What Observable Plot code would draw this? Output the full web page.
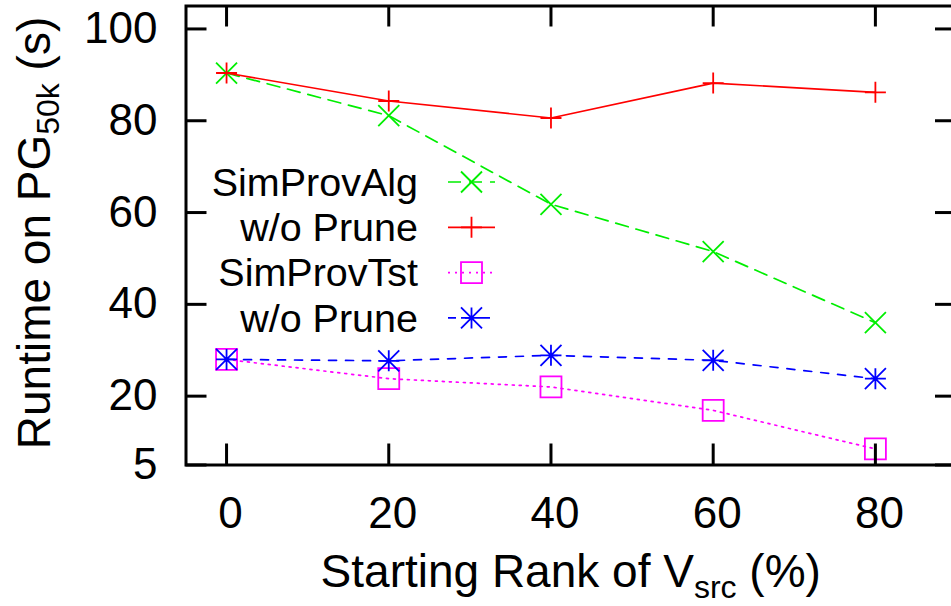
<!DOCTYPE html>
<html>
<head>
<meta charset="utf-8">
<script src="https://cdn.jsdelivr.net/npm/d3@7"></script>
<script src="https://cdn.jsdelivr.net/npm/@observablehq/plot@0.6"></script>
<style>
  html, body { margin: 0; padding: 0; background: white; overflow: hidden; }
  #chart svg { display: block; }
</style>
</head>
<body>
<div id="chart"></div>
<script>
// ---- data ----
const ranks = [0, 20, 40, 60, 80];
const simProvAlg = [90.4, 81.1, 61.8, 51.5, 36.0];
const algNoPrune = [90.4, 84.3, 80.6, 88.2, 86.2];
const simProvTst = [28.0, 23.8, 22.0, 16.9, 8.5];
const tstNoPrune = [28.0, 27.7, 28.9, 27.8, 23.8];
const seriesNames = ["SimProvAlg", "w/o Prune", "SimProvTst", "w/o Prune"];
const xTicks = [0, 20, 40, 60, 80];
const yTicks = [5, 20, 40, 60, 80, 100];
const xLabel = ["Starting Rank of V", "src", " (%)"];
const yLabel = ["Runtime on PG", "50k", " (s)"];

// ---- symbols (gnuplot-like) ----
const rOf = s => Math.sqrt(s / Math.PI);
const symPlus = {draw(c, s) { const r = rOf(s); c.moveTo(-r, 0); c.lineTo(r, 0); c.moveTo(0, -r); c.lineTo(0, r); }};
const symTimes = {draw(c, s) { const r = rOf(s); c.moveTo(-r, -r); c.lineTo(r, r); c.moveTo(-r, r); c.lineTo(r, -r); }};
const symSquare = {draw(c, s) { const r = rOf(s); c.moveTo(-r, -r); c.lineTo(r, -r); c.lineTo(r, r); c.lineTo(-r, r); c.closePath(); }};
const symAst = {draw(c, s) { const r = rOf(s); symPlus.draw(c, s); c.moveTo(-r, -r); c.lineTo(r, r); c.moveTo(-r, r); c.lineTo(r, -r); }};

const series = [
  {name: seriesNames[0], values: simProvAlg, color: "#00ee00", dash: "13,8", sym: symTimes},
  {name: seriesNames[1], values: algNoPrune, color: "#ff0000", dash: null, sym: symPlus},
  {name: seriesNames[2], values: simProvTst, color: "#ff00ff", dash: "2,5", sym: symSquare},
  {name: seriesNames[3], values: tstNoPrune, color: "#0000ff", dash: "8,9", sym: symAst}
];

const W = 951, H = 606;
const mL = 185.5, mR = -5, mT = 5.5, mB = 141.5;
const innerW = W - mL - mR, innerH = H - mT - mB;
const tickLen = 21;
const markR = 10.5;
const font = "Liberation Sans, Arial, Helvetica, sans-serif";

const marks = [];
for (const s of series) {
  const rows = ranks.map((r, i) => ({x: r, y: s.values[i]}));
  marks.push(Plot.line(rows, {x: "x", y: "y", stroke: s.color, strokeWidth: 1.7, strokeDasharray: s.dash}));
  marks.push(Plot.dot(rows, {x: "x", y: "y", r: markR, symbol: s.sym, fill: "none", stroke: s.color, strokeWidth: 1.8}));
}

const plot = Plot.plot({
  width: W, height: H,
  marginLeft: mL, marginRight: mR, marginTop: mT, marginBottom: mB,
  style: {fontFamily: font, background: "white", color: "black"},
  x: {domain: [-5, 90]},
  y: {domain: [5, 105]},
  marks: [
    ...marks,
    Plot.tickY(yTicks, {y: d => d, stroke: "black", strokeWidth: 3, insetRight: innerW - tickLen}),
    Plot.tickY(yTicks, {y: d => d, stroke: "black", strokeWidth: 3, insetLeft: innerW - tickLen}),
    Plot.tickX(xTicks, {x: d => d, stroke: "black", strokeWidth: 3, insetTop: innerH - tickLen}),
    Plot.tickX(xTicks, {x: d => d, stroke: "black", strokeWidth: 3, insetBottom: innerH - tickLen}),
    Plot.axisX({ticks: xTicks, tickSize: 0, tickPadding: 32, fontSize: 44, dx: 4, label: null}),
    Plot.axisY({ticks: yTicks, tickSize: 0, tickPadding: 28.5, fontSize: 44, label: null}),
    Plot.frame({stroke: "black", strokeWidth: 3})
  ]
});

document.getElementById("chart").appendChild(plot);

const svg = d3.select(plot);

// axis labels with subscripts
const yl = svg.append("text")
  .attr("transform", `translate(50,${mT + innerH / 2 - 2}) rotate(-90)`)
  .attr("text-anchor", "middle").attr("font-size", 46).attr("font-family", font).attr("fill", "black");
yl.append("tspan").text(yLabel[0]);
yl.append("tspan").attr("font-size", 32).attr("dy", 9).text(yLabel[1]);
yl.append("tspan").attr("dy", -9).text(yLabel[2]);

const xl = svg.append("text")
  .attr("x", mL + innerW / 2).attr("y", 587)
  .attr("text-anchor", "middle").attr("font-size", 46).attr("font-family", font).attr("fill", "black");
xl.append("tspan").text(xLabel[0]);
xl.append("tspan").attr("font-size", 32).attr("dy", 11).text(xLabel[1]);
xl.append("tspan").attr("dy", -11).text(xLabel[2]);

// legend
const legX = 418, legY0 = 182, legDy = 45.3, lx1 = 448, lx2 = 495;
series.forEach((s, i) => {
  const y = legY0 + i * legDy;
  svg.append("text").attr("x", legX).attr("y", y).attr("dy", "0.35em")
    .attr("text-anchor", "end").attr("font-size", 39.5).attr("font-family", font).attr("fill", "black")
    .text(s.name);
  svg.append("line").attr("x1", lx1).attr("x2", lx2).attr("y1", y).attr("y2", y)
    .attr("stroke", s.color).attr("stroke-width", 1.7).attr("stroke-dasharray", s.dash);
  svg.append("path").attr("transform", `translate(${(lx1 + lx2) / 2},${y})`)
    .attr("d", d3.symbol(s.sym, Math.PI * markR * markR)())
    .attr("fill", "none").attr("stroke", s.color).attr("stroke-width", 1.8);
});
</script>
</body>
</html>
